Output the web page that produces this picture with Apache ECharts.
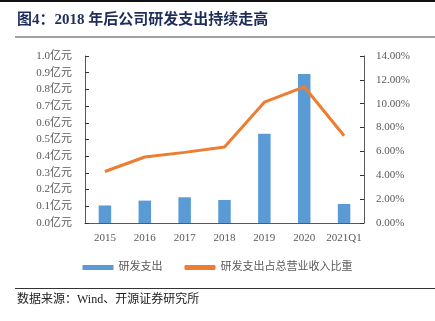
<!DOCTYPE html>
<html><head><meta charset="utf-8">
<script src="https://cdn.jsdelivr.net/npm/echarts@6/dist/echarts.min.js"></script>
<style>html,body{margin:0;padding:0;background:#fff}#c{width:435px;height:321px}</style>
</head><body><div id="c"></div>
<script>
const categories = ['2015','2016','2017','2018','2019','2020','2021Q1'];
const rdSpend = [0.105, 0.134, 0.154, 0.138, 0.535, 0.892, 0.114];
const rdRatio = [4.32, 5.53, 5.92, 6.37, 10.13, 11.42, 7.32];
const leftTicks = ['0.0','0.1','0.2','0.3','0.4','0.5','0.6','0.7','0.8','0.9','1.0'];
const F = '"Liberation Serif","Noto Sans CJK SC",serif';
const chart = echarts.init(document.getElementById('c'));
chart.setOption({
  animation:false,
  grid:{left:85,right:71,top:56,bottom:98},
  graphic:[
    {type:'rect',shape:{x:0,y:0,width:435,height:2},style:{fill:'#111'}},
    {type:'text',left:17,top:13,style:{text:'图4：2018 年后公司研发支出持续走高',font:'bold 15px '+F,fill:'#1f2d5c'}},
    {type:'rect',shape:{x:15,y:36,width:420,height:2},style:{fill:'#a0a0a0'}},
    {type:'rect',shape:{x:15,y:288,width:420,height:1},style:{fill:'#333'}},
    {type:'text',left:17,top:294,style:{text:'数据来源：Wind、开源证券研究所',font:'12px '+F,fill:'#222'}}
  ],
  legend:{
    top:257,left:'center',itemWidth:31,itemHeight:5,itemGap:22,
    textStyle:{fontFamily:F,fontSize:11,color:'#595959'},
    data:[{name:'研发支出',icon:'rect'},{name:'研发支出占总营业收入比重',icon:'roundRect'}]
  },
  xAxis:{type:'category',data:categories,boundaryGap:true,
    axisLine:{lineStyle:{color:'#595959',width:1}},
    axisTick:{inside:true,alignWithLabel:false,length:4,lineStyle:{color:'#333'}},
    axisLabel:{interval:0,fontFamily:F,fontSize:11,color:'#595959',margin:10}},
  yAxis:[
    {type:'value',min:0,max:1,interval:0.1,splitLine:{show:false},
     axisLine:{show:true,lineStyle:{color:'#595959'}},
     axisTick:{show:true,inside:true,length:4,lineStyle:{color:'#333'}},
     axisLabel:{fontFamily:F,fontSize:11,color:'#595959',margin:13,
       formatter:(v,i)=>leftTicks[Math.round(v*10)]+'亿元'}},
    {type:'value',min:0,max:14,interval:2,splitLine:{show:false},
     axisLine:{show:true,lineStyle:{color:'#595959'}},
     axisTick:{show:true,inside:true,length:4,lineStyle:{color:'#333'}},
     axisLabel:{fontFamily:F,fontSize:11,color:'#595959',margin:12,
       formatter:v=>v.toFixed(2)+'%'}}
  ],
  series:[
    {name:'研发支出',type:'bar',data:rdSpend,barWidth:12.5,itemStyle:{color:'#5b9bd5'}},
    {name:'研发支出占总营业收入比重',type:'line',yAxisIndex:1,data:rdRatio,
     symbol:'none',lineStyle:{color:'#ed7d31',width:3},itemStyle:{color:'#ed7d31'}}
  ]
});
</script></body></html>
